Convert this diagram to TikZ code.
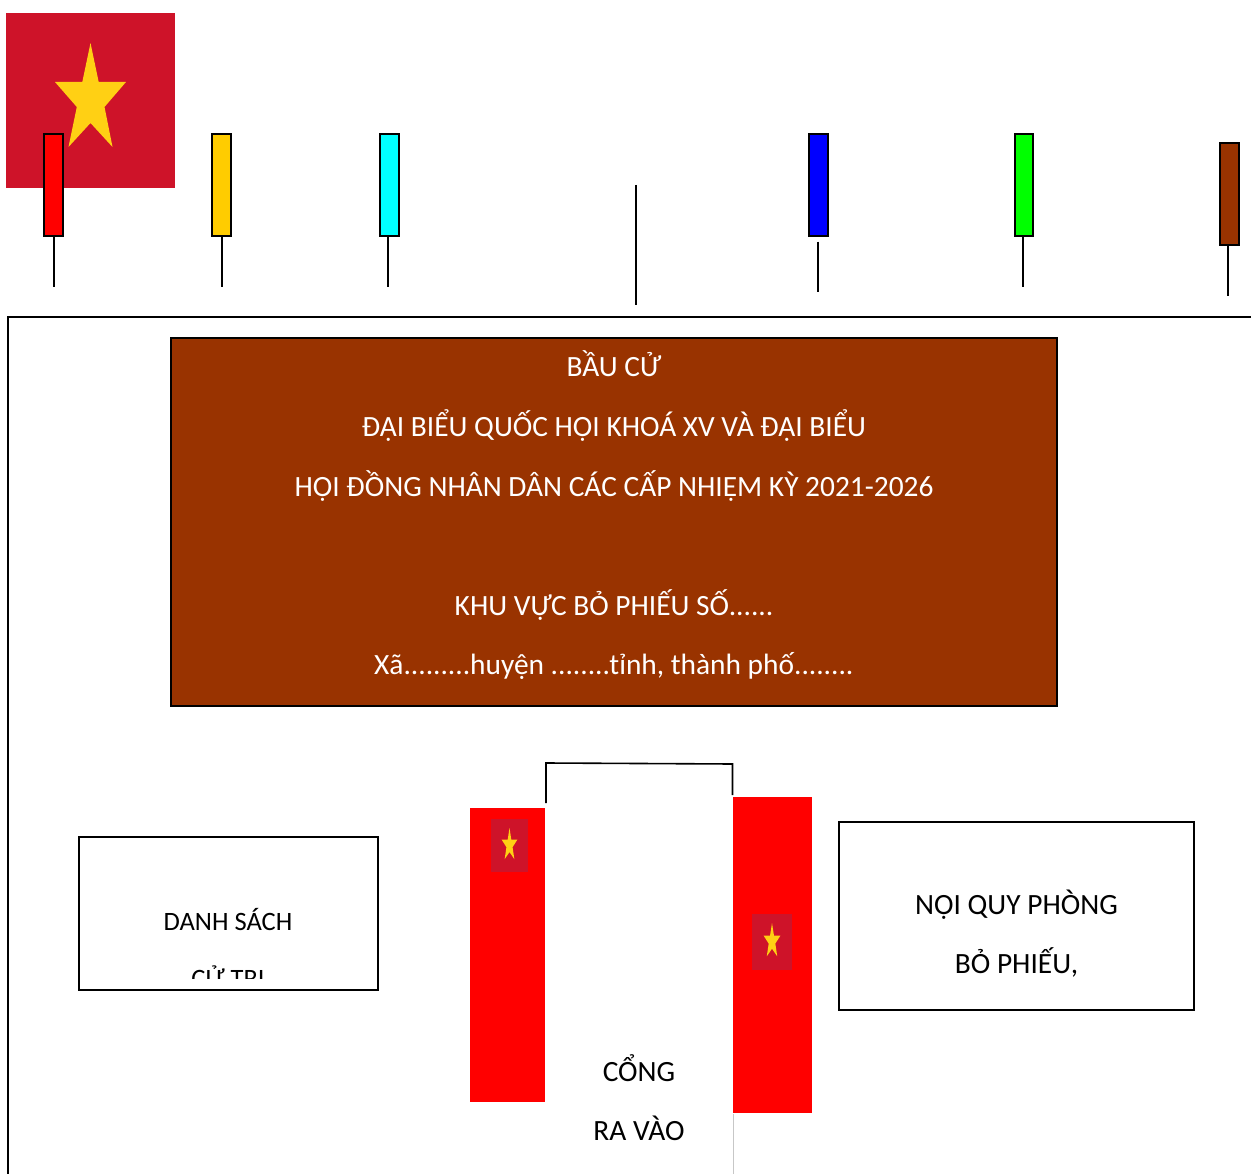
\documentclass[tikz,border=0pt]{standalone}
\usepackage{fontspec}
\setmainfont{Carlito}
\definecolor{flagred}{HTML}{CE1329}
\definecolor{staryellow}{HTML}{FFD014}
\definecolor{brownbox}{HTML}{993300}
\definecolor{goldbox}{HTML}{FFCC00}
\definecolor{purecyan}{HTML}{00FFFF}
\definecolor{puregreen}{HTML}{00FF00}
\definecolor{pureblue}{HTML}{0000FF}
\definecolor{purered}{HTML}{FF0000}
\tikzset{
  polebox/.style={draw=black,line width=2pt,minimum width=18.5pt,minimum height=102pt,inner sep=0pt,outer sep=0pt},
  polestick/.style={draw=black,line width=1.6pt},
  plainbox/.style={draw=black,line width=2pt,fill=white,inner sep=0pt,outer sep=0pt},
  banner/.style={draw=black,line width=2pt,fill=brownbox,inner sep=0pt,outer sep=0pt,minimum width=886pt,minimum height=368pt},
  label/.style={anchor=base,inner sep=0pt,font=\fontsize{29.4}{29.4}\selectfont},
  blabel/.style={label,text=white},
  smalllabel/.style={anchor=base,inner sep=0pt,font=\fontsize{26.5}{26.5}\selectfont},
  redpanel/.style={fill=purered,draw=none,inner sep=0pt}
}
\newcommand{\vnflag}[4]{% x0 y0 x1 y1
  \fill[flagred] (#1,#2) rectangle (#3,#4);
  \begin{scope}[shift={(#1,#2)},x={(#3pt-#1pt,0pt)},y={(0pt,#2pt-#4pt)}]
    \fill[staryellow] (0.5,0.171) -- (0.549,0.394) -- (0.711,0.394) -- (0.583,0.537) -- (0.631,0.766) -- (0.5,0.629)
      -- (0.369,0.766) -- (0.417,0.537) -- (0.289,0.394) -- (0.451,0.394) -- cycle;
  \end{scope}
}
\begin{document}
\begin{tikzpicture}[x=1pt,y=-1pt]
\useasboundingbox (0,0) rectangle (1251,1174);
% large flag
\fill[flagred] (6,13) rectangle (175,188);
\fill[staryellow] (90.5,43) -- (98.7,82) -- (126,82) -- (104.5,107) -- (112.5,147) -- (90.5,123)
  -- (68.5,147) -- (76.8,107) -- (55,82) -- (82.3,82) -- cycle;
% frame
\draw[black,line width=2pt] (8,1174) -- (8,317) -- (1251,317);
% poles
\node[polebox,fill=purered] (p1) at (53.5,185.5) {};
\node[polebox,fill=goldbox] (p2) at (221.5,185.5) {};
\node[polebox,fill=purecyan] (p3) at (389.5,185.5) {};
\node[polebox,fill=pureblue] (p4) at (818.7,185.4) {};
\node[polebox,fill=puregreen] (p5) at (1024,185.4) {};
\node[polebox,fill=brownbox] (p6) at (1229.3,194) {};
\coordinate (e1) at (54,287);
\coordinate (e2) at (222,287);
\coordinate (e3) at (388,287);
\coordinate (s4) at (817.7,241.7);
\coordinate (e4) at (817.7,292.3);
\coordinate (e5) at (1023,287);
\coordinate (e6) at (1228,296);
\coordinate (ct) at (636,185);
\coordinate (cb) at (636,305);
\draw[polestick] (e1 |- p1.south) -- (e1);
\draw[polestick] (e2 |- p2.south) -- (e2);
\draw[polestick] (e3 |- p3.south) -- (e3);
\draw[polestick] (s4) -- (e4);
\draw[polestick] (e5 |- p5.south) -- (e5);
\draw[polestick] (e6 |- p6.south) -- (e6);
\draw[polestick] (ct) -- (cb);
% banner
\node[banner] (ban) at (614,522) {};
\node[blabel] (b1) at (614,377) {BẦU CỬ};
\node[blabel] (b2) at (614,436) {ĐẠI BIỂU QUỐC HỘI KHOÁ XV VÀ ĐẠI BIỂU};
\node[blabel] (b3) at (614,496) {HỘI ĐỒNG NHÂN DÂN CÁC CẤP NHIỆM KỲ 2021-2026};
\node[blabel] (b4) at (614,615) {KHU VỰC BỎ PHIẾU SỐ......};
\node[blabel] (b5) at (614,674) {Xã.........huyện ........tỉnh, thành phố........};
% list box
\node[plainbox,minimum width=299pt,minimum height=152.5pt] (ds) at (228.5,913.7) {};
\node[smalllabel] (d1) at (228,930) {DANH SÁCH};
\begin{scope}
  \clip (80,940) rectangle (377,978);
  \node[smalllabel] (d2) at (228,987.5) {CỬ TRI};
\end{scope}
% rules box
\node[plainbox,minimum width=355pt,minimum height=188pt] (nq) at (1016.5,916) {};
\node[label] (n1) at (1016.5,914) {NỘI QUY PHÒNG};
\node[label] (n2) at (1016.5,973) {BỎ PHIẾU,};
% gate
\coordinate (g1) at (546,803);
\coordinate (g2) at (546,763);
\coordinate (g3) at (732.5,764);
\coordinate (g4) at (732.5,795);
\draw[black,line width=1.6pt] (g1) -- (g2) -- (g3) -- (g4);
\coordinate (g5) at (733.5,1114);
\coordinate (g6) at (733.5,1174);
\draw[black!22,line width=1pt] (g5) -- (g6);
\node[redpanel,minimum width=75pt,minimum height=294pt] (fl) at (507.5,955) {};
\node[redpanel,minimum width=79pt,minimum height=316pt] (fr) at (772.5,955) {};
\vnflag{491}{819}{528}{871.5}
\vnflag{752}{913.5}{792}{969.5}
\node[label] (c1) at (639,1081) {CỔNG};
\node[label] (c2) at (639,1140) {RA VÀO};
\end{tikzpicture}
\end{document}
